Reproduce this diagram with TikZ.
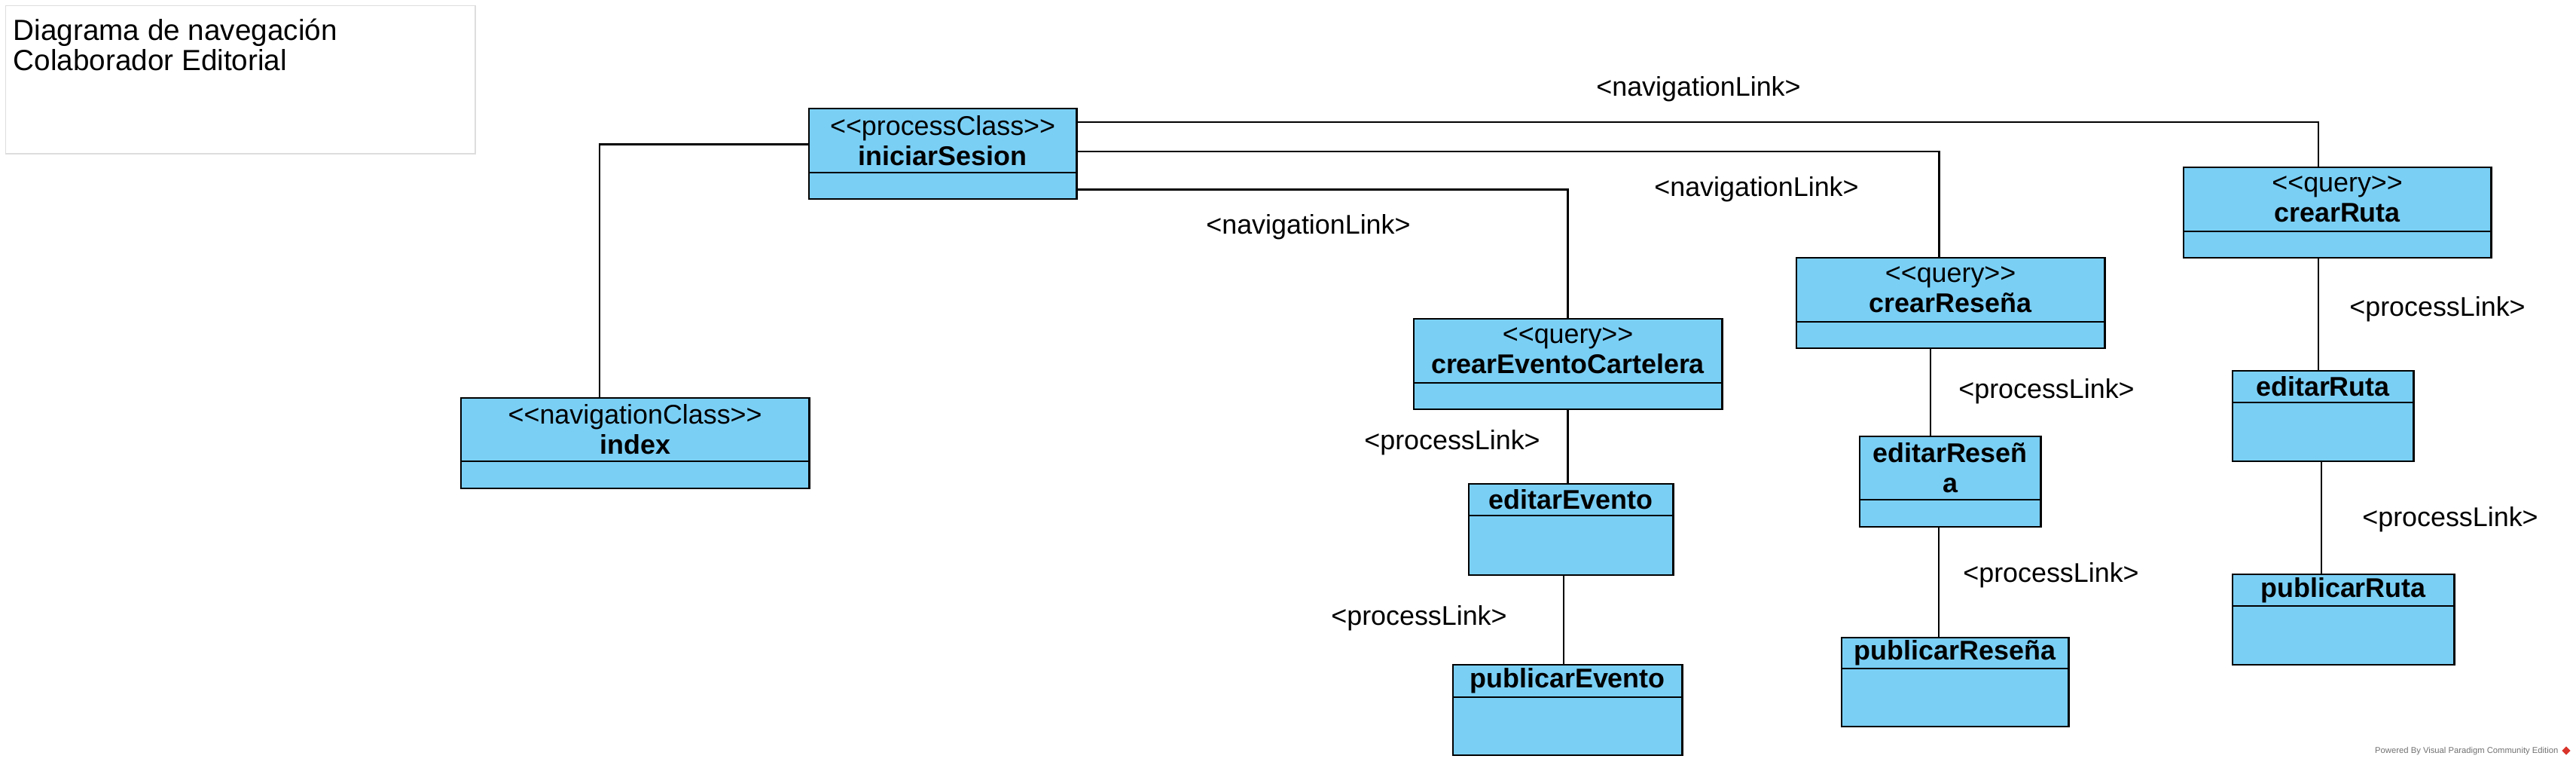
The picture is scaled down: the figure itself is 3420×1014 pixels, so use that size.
\documentclass[tikz,border=0pt]{standalone}
\usepackage{fontspec}
\setmainfont{Liberation Sans}
\usepackage{tikz}
\usetikzlibrary{positioning,calc}
\definecolor{clasec}{HTML}{7ACFF5}
\definecolor{marcoc}{HTML}{DDDDDD}
\definecolor{marcac}{HTML}{707070}
\definecolor{logoc}{HTML}{D9342B}

\begin{document}
\begin{tikzpicture}[x=0.01cm,y=-0.01cm,every node/.style={font=\fontsize{10.2}{11.4}\selectfont}]
\tikzstyle{cabeza}=[draw,line width=0.8pt,fill=clasec,anchor=north west,inner sep=0pt,outer sep=0pt,align=center]
\tikzstyle{cuerpo}=[draw,line width=0.8pt,fill=clasec,anchor=north,inner sep=0pt,outer sep=0pt]
\tikzstyle{enlace}=[line width=0.7pt]
\tikzstyle{etiqueta}=[inner sep=1pt]
\useasboundingbox (0,0) rectangle (3420,1014);
% titulo
\node[draw=marcoc,line width=0.4pt,anchor=north west,minimum width=6.23cm,minimum height=1.96cm,inner sep=0pt] (titulo) at (7,7) {};
\node[anchor=north west,align=left,inner sep=0pt,font=\fontsize{11}{11.4}\selectfont] (titulotxt) at (17,24) {Diagrama de navegación\\Colaborador Editorial};
% clases
\node[cabeza,minimum width=3.55cm,minimum height=0.85cm] (iniciar) at (1074,144) {<{}<processClass>{}>\\\textbf{iniciarSesion}};
\node[cuerpo,minimum width=3.55cm,minimum height=0.35cm] (iniciarc) at (iniciar.south) {};
\node[cabeza,minimum width=4.62cm,minimum height=0.84cm] (index) at (612,528) {<{}<navigationClass>{}>\\\textbf{index}};
\node[cuerpo,minimum width=4.62cm,minimum height=0.36cm] (indexc) at (index.south) {};
\node[cabeza,minimum width=4.09cm,minimum height=0.85cm] (evento) at (1877,423) {<{}<query>{}>\\\textbf{crearEventoCartelera}};
\node[cuerpo,minimum width=4.09cm,minimum height=0.35cm] (eventoc) at (evento.south) {};
\node[cabeza,minimum width=2.71cm,minimum height=0.42cm] (editevento) at (1950,642) {\textbf{editarEvento}};
\node[cuerpo,minimum width=2.71cm,minimum height=0.79cm] (editeventoc) at (editevento.south) {};
\node[cabeza,minimum width=3.04cm,minimum height=0.43cm] (pubevento) at (1929,882) {\textbf{publicarEvento}};
\node[cuerpo,minimum width=3.04cm,minimum height=0.77cm] (pubeventoc) at (pubevento.south) {};
\node[cabeza,minimum width=4.09cm,minimum height=0.85cm] (resena) at (2385,342) {<{}<query>{}>\\\textbf{crearReseña}};
\node[cuerpo,minimum width=4.09cm,minimum height=0.35cm] (resenac) at (resena.south) {};
\node[cabeza,minimum width=2.40cm,minimum height=0.84cm] (editresena) at (2469,579) {\textbf{editarReseñ}\\\textbf{a}};
\node[cuerpo,minimum width=2.40cm,minimum height=0.36cm] (editresenac) at (editresena.south) {};
\node[cabeza,minimum width=3.01cm,minimum height=0.41cm] (pubresena) at (2445,846) {\textbf{publicarReseña}};
\node[cuerpo,minimum width=3.01cm,minimum height=0.77cm] (pubresenac) at (pubresena.south) {};
\node[cabeza,minimum width=4.08cm,minimum height=0.85cm] (ruta) at (2899,222) {<{}<query>{}>\\\textbf{crearRuta}};
\node[cuerpo,minimum width=4.08cm,minimum height=0.35cm] (rutac) at (ruta.south) {};
\node[cabeza,minimum width=2.40cm,minimum height=0.42cm] (editruta) at (2964,492) {\textbf{editarRuta}};
\node[cuerpo,minimum width=2.40cm,minimum height=0.78cm] (editrutac) at (editruta.south) {};
\node[cabeza,minimum width=2.94cm,minimum height=0.42cm] (pubruta) at (2964,762) {\textbf{publicarRuta}};
\node[cuerpo,minimum width=2.94cm,minimum height=0.78cm] (pubrutac) at (pubruta.south) {};
% enlaces
\draw[enlace] ($(index.north)+(-47,0)$) |- ($(iniciar.west)+(0,5)$);
\draw[enlace] ($(iniciar.north east)+(0,18)$) -| ($(ruta.north)+(-25,0)$);
\draw[enlace] ($(iniciar.north east)+(0,57)$) -| ($(resena.north)+(-15,0)$);
\draw[enlace] ($(iniciarc.east)+(0,5)$) -| (evento.north);
\draw[enlace] (eventoc.south) -- (eventoc.south |- editevento.north);
\draw[enlace] ($(pubevento.north)+(-5,0)$) coordinate (v1) -- (v1 |- editeventoc.south);
\draw[enlace] ($(editresena.north)+(-26,0)$) coordinate (v2) -- (v2 |- resenac.south);
\draw[enlace] ($(editresenac.south)+(-15,0)$) coordinate (v3) -- (v3 |- pubresena.north);
\draw[enlace] ($(editruta.north)+(-6,0)$) coordinate (v4) -- (v4 |- rutac.south);
\draw[enlace] ($(editrutac.south)+(-2,0)$) coordinate (v5) -- (v5 |- pubruta.north);
% etiquetas
\node[etiqueta] (nav1) at (2255,118) {<navigationLink>};
\node[etiqueta] (nav2) at (2332,251) {<navigationLink>};
\node[etiqueta] (nav3) at (1737,301) {<navigationLink>};
\node[etiqueta] (proc1) at (1928,587) {<processLink>};
\node[etiqueta] (proc2) at (1884,820) {<processLink>};
\node[etiqueta] (proc3) at (2717,519) {<processLink>};
\node[etiqueta] (proc4) at (2723,763) {<processLink>};
\node[etiqueta] (proc5) at (3236,410) {<processLink>};
\node[etiqueta] (proc6) at (3253,689) {<processLink>};
% marca
\node[anchor=east,inner sep=0pt,text=marcac,font=\fontsize{3.2}{4}\selectfont] (marca) at (3397,997) {Powered By Visual Paradigm Community Edition};
\node[fill=logoc,rotate=45,minimum size=0.08cm,inner sep=0pt] (logo) at (3407,996) {};
\end{tikzpicture}
\end{document}
